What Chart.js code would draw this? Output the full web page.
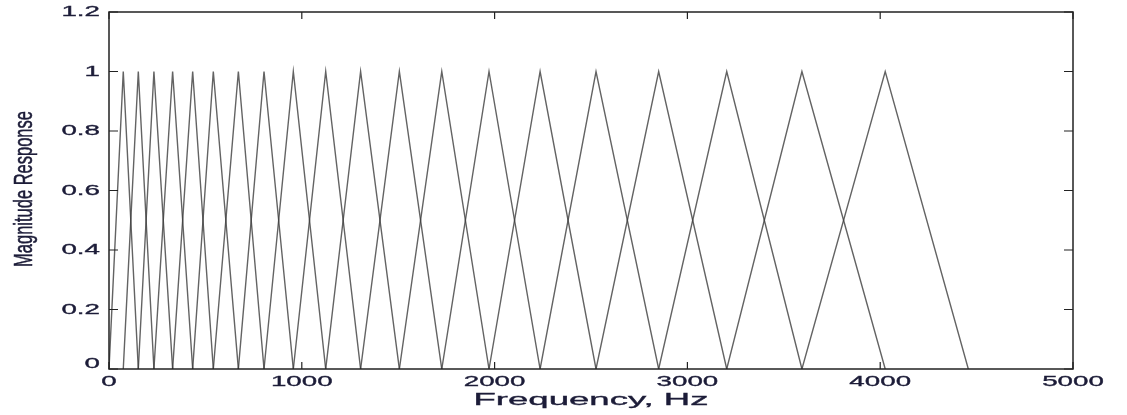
<!DOCTYPE html>
<html>
<head>
<meta charset="utf-8">
<script src="https://cdn.jsdelivr.net/npm/chart.js@4/dist/chart.umd.min.js"></script>
<style>
  html, body { margin: 0; padding: 0; background: #fff; }
</style>
</head>
<body>
<canvas id="mycanvas" width="1127" height="415"></canvas>
<script>
// filter band edges in Hz (filter i runs edges[i] -> edges[i+1] (peak) -> edges[i+2])
var filterEdges = [0, 74, 152, 233, 330, 434, 541, 671, 804, 956, 1124, 1305, 1506, 1726, 1971, 2236, 2526, 2851, 3204, 3594, 4026, 4457];
var peakHeights = [1, 1, 1, 1, 1, 1, 1, 1, 1, 1, 1, 1, 1, 1, 1, 1, 1, 1, 1, 1];
var xTicks = [0, 1000, 2000, 3000, 4000, 5000];
var yTicks = [0, 0.2, 0.4, 0.6, 0.8, 1, 1.2];
var yTickLabels = ['0', '0.2', '0.4', '0.6', '0.8', '1', '1.2'];
var xTitle = 'Frequency, Hz';
var yTitle = 'Magnitude Response';

var datasets = [];
for (var i = 0; i < peakHeights.length; i++) {
	datasets.push({
		data: [
			{x: filterEdges[i], y: 0},
			{x: filterEdges[i + 1], y: peakHeights[i]},
			{x: filterEdges[i + 2], y: 0}
		],
		borderColor: 'rgba(60, 60, 60, 0.8)',
		borderWidth: 1.4,
		pointRadius: 0,
		fill: false,
		tension: 0
	});
}

var textColor = '#1c1c38';

// stretched text, with a thin stroke so it looks as heavy as the scan
function stretchedText(ctx, txt, x, y, sx, sy, rot) {
	ctx.save();
	ctx.translate(x, y);
	if (rot) ctx.rotate(rot);
	ctx.scale(sx, sy);
	ctx.fillText(txt, 0, 0);
	ctx.lineWidth = 0.35;
	ctx.strokeText(txt, 0, 0);
	ctx.restore();
}

// draws the matlab style box, inside ticks and the labels
var axesPlugin = {
	id: 'matlabAxes',
	afterDraw: function(chart) {
		var ctx = chart.ctx;
		var xs = chart.scales.x, ys = chart.scales.y;
		var a = chart.chartArea;
		ctx.save();
		ctx.strokeStyle = '#222';
		ctx.lineWidth = 1.5;
		ctx.strokeRect(a.left, a.top, a.right - a.left, a.bottom - a.top);

		ctx.lineWidth = 1.2;
		ctx.beginPath();
		xTicks.forEach(function(v) {
			var px = xs.getPixelForValue(v);
			ctx.moveTo(px, a.bottom); ctx.lineTo(px, a.bottom - 7);
			ctx.moveTo(px, a.top); ctx.lineTo(px, a.top + 7);
		});
		yTicks.forEach(function(v) {
			var py = ys.getPixelForValue(v);
			ctx.moveTo(a.left, py); ctx.lineTo(a.left + 9, py);
			ctx.moveTo(a.right, py); ctx.lineTo(a.right - 9, py);
		});
		ctx.stroke();

		ctx.fillStyle = textColor;
		ctx.strokeStyle = textColor;
		ctx.font = '15px "Liberation Sans", Arial, sans-serif';
		var sx = 1.85;

		// x tick labels
		ctx.textAlign = 'center';
		ctx.textBaseline = 'middle';
		xTicks.forEach(function(v) {
			stretchedText(ctx, String(v), xs.getPixelForValue(v), a.bottom + 13, sx, 1);
		});

		// y tick labels
		ctx.textAlign = 'right';
		yTicks.forEach(function(v, k) {
			var py = ys.getPixelForValue(v);
			if (v === 0) py -= 5;
			stretchedText(ctx, yTickLabels[k], a.left - 9, py, sx, 1);
		});

		// axis titles
		ctx.textAlign = 'center';
		ctx.font = '17px "Liberation Sans", Arial, sans-serif';
		stretchedText(ctx, xTitle, (a.left + a.right) / 2, a.bottom + 31, 2.15, 1);

		ctx.font = '16.5px "Liberation Sans", Arial, sans-serif';
		stretchedText(ctx, yTitle, 25, 189, 1, 1.6, -Math.PI / 2);

		ctx.restore();
	}
};

var ctx = document.getElementById('mycanvas');
var chart = new Chart(ctx, {
	type: 'line',
	data: { datasets: datasets },
	options: {
		responsive: false,
		animation: false,
		layout: { padding: { left: 109, top: 12, right: 54, bottom: 46 } },
		plugins: {
			legend: { display: false },
			tooltip: { enabled: false }
		},
		scales: {
			x: { type: 'linear', min: 0, max: 5000, display: false },
			y: { type: 'linear', min: 0, max: 1.2, display: false }
		}
	},
	plugins: [axesPlugin]
});
</script>
</body>
</html>
